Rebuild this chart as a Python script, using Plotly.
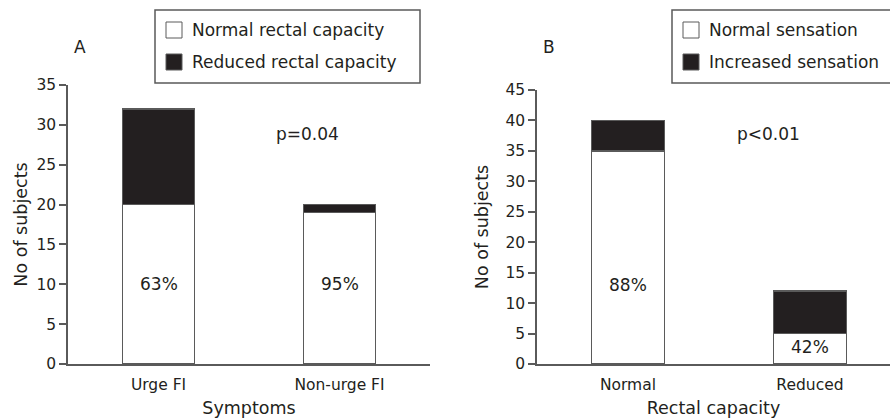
import plotly.graph_objects as go

# Panel A: rectal capacity by symptom group
sym_groups = ["Urge FI", "Non-urge FI"]
cap_normal = [20, 19]
cap_reduced = [12, 1]
cap_pct = ["63%", "95%"]

# Panel B: rectal sensation by rectal capacity
cap_groups = ["Normal", "Reduced"]
sens_normal = [35, 5]
sens_increased = [5, 7]
sens_pct = ["88%", "42%"]

W, H = 890, 419
INK = "#231f20"
EDGE = "#5a5a5a"
FONT = "'DejaVu Sans', Verdana, sans-serif"


def px_x(v):
    return v / W


def px_y(v):
    return 1 - v / H


fig = go.Figure()

bar_w = 0.40
fig.add_trace(go.Bar(x=sym_groups, y=cap_normal, width=bar_w, marker=dict(color="white", line=dict(color=EDGE, width=1.5)),
                     xaxis="x", yaxis="y", showlegend=False))
fig.add_trace(go.Bar(x=sym_groups, y=cap_reduced, width=bar_w, marker=dict(color=INK, line=dict(color=EDGE, width=1.5)),
                     xaxis="x", yaxis="y", showlegend=False))
fig.add_trace(go.Bar(x=cap_groups, y=sens_normal, width=bar_w, marker=dict(color="white", line=dict(color=EDGE, width=1.5)),
                     xaxis="x2", yaxis="y2", showlegend=False))
fig.add_trace(go.Bar(x=cap_groups, y=sens_increased, width=bar_w, marker=dict(color=INK, line=dict(color=EDGE, width=1.5)),
                     xaxis="x2", yaxis="y2", showlegend=False))

tick_font = dict(family=FONT, size=15.5, color=INK)
xtick_font = dict(family=FONT, size=15.5, color=INK)
title_font = dict(family=FONT, size=17.5, color=INK)
lab_font = dict(family=FONT, size=17, color=INK)

xcommon = dict(type="category", showgrid=False, zeroline=False, showline=True, linecolor=EDGE, linewidth=1.5,
               ticks="", tickfont=xtick_font, title_font=title_font, automargin=False, ticklabelstandoff=6)
ycommon = dict(showgrid=False, zeroline=False, showline=True, linecolor=EDGE, linewidth=1.5,
               ticks="outside", ticklen=7, tickcolor=EDGE, tickwidth=1.5, tickfont=tick_font,
               title_font=title_font, dtick=5, automargin=False)

fig.update_layout(
    width=W, height=H, margin=dict(l=0, r=0, t=0, b=0),
    paper_bgcolor="white", plot_bgcolor="white", barmode="stack",
    font=dict(family=FONT, color=INK),
    xaxis=dict(xcommon, domain=[px_x(68), px_x(430)], range=[-0.5, 1.5], anchor="y",
               title=dict(text="Symptoms", standoff=8)),
    yaxis=dict(ycommon, domain=[1 - 364 / H, 1 - 85 / H], range=[0, 35], anchor="x",
               title=dict(text="No of subjects", standoff=4)),
    xaxis2=dict(xcommon, domain=[px_x(537), 1.0], range=[-0.5, 1.44], anchor="y2",
                title=dict(text="Rectal capacity", standoff=8)),
    yaxis2=dict(ycommon, domain=[1 - 364 / H, 1 - 90 / H], range=[0, 45], anchor="x2",
                title=dict(text="No of subjects", standoff=12)),
)

ann = []
# percentage labels inside the white segments
for cat, lbl, yv in zip(sym_groups, cap_pct, [10, 10]):
    ann.append(dict(x=cat, y=yv, xref="x", yref="y", text=lbl, showarrow=False, font=lab_font))
for cat, lbl, yv in zip(cap_groups, sens_pct, [13, 2.8]):
    ann.append(dict(x=cat, y=yv, xref="x2", yref="y2", text=lbl, showarrow=False, font=lab_font))


def paper_text(x, y, text, xanchor="center"):
    ann.append(dict(x=px_x(x), y=px_y(y), xref="paper", yref="paper", text=text, showarrow=False,
                    xanchor=xanchor, yanchor="middle", font=lab_font))


# panel letters and p values
paper_text(80, 47, "A")
paper_text(549, 47, "B")
paper_text(307, 134, "p=0.04")
paper_text(768, 134, "p<0.01")

shapes = []


def legend_box(x0, x1, items):
    shapes.append(dict(type="rect", xref="paper", yref="paper", x0=px_x(x0), x1=px_x(x1),
                       y0=px_y(83), y1=px_y(10), line=dict(color=EDGE, width=1.5), fillcolor="white"))
    for (label, fill), yc in zip(items, [30, 62]):
        sx = x0 + 11
        shapes.append(dict(type="rect", xref="paper", yref="paper", x0=px_x(sx), x1=px_x(sx + 16),
                           y0=px_y(yc + 8), y1=px_y(yc - 8), line=dict(color=EDGE, width=1), fillcolor=fill))
        paper_text(sx + 24, yc, label, xanchor="left")


legend_box(155, 420, [("Normal rectal capacity", "white"), ("Reduced rectal capacity", INK)])
legend_box(672, 893, [("Normal sensation", "white"), ("Increased sensation", INK)])

fig.update_layout(annotations=ann, shapes=shapes)
fig.write_html("out.html")
